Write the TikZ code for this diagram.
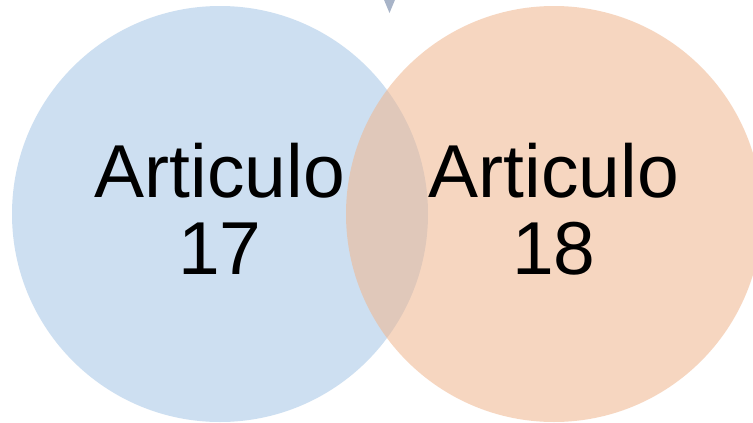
\documentclass[tikz,border=0pt]{standalone}
\usepackage{fontspec}
\setmainfont{Liberation Sans}
\definecolor{blueset}{RGB}{205,223,241}
\definecolor{orangeset}{RGB}{240,182,142}
\definecolor{tri}{RGB}{168,180,200}
\tikzset{
  setcircle/.style={circle, minimum size=416pt, inner sep=0pt, draw=none},
  settext/.style={align=center, font=\fontsize{75}{77}\selectfont, inner sep=0pt}
}
\begin{document}
\begin{tikzpicture}[x=1pt,y=-1pt]
\useasboundingbox (0,0) rectangle (753,423);
\clip (0,0) rectangle (753,423);
\fill[white] (0,0) rectangle (753,423);
\fill[tri] (382,-5) -- (397,-5) -- (389.5,13) -- cycle;
\node[setcircle, fill=blueset] (left) at (220,214) {};
\node[setcircle, fill=orangeset, fill opacity=0.55] (right) at (554,214) {};
\node[settext] (lt) at (220,209) {Articulo\\17};
\node[settext] (rt) at (554,209) {Articulo\\18};
\end{tikzpicture}
\end{document}
